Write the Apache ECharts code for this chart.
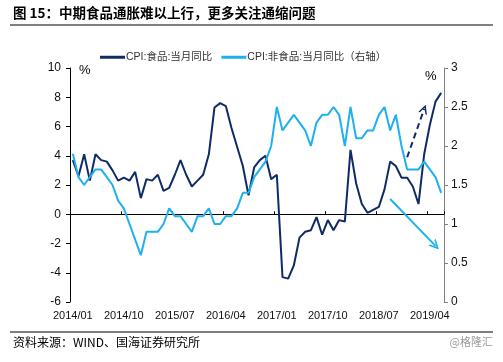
<!DOCTYPE html>
<html><head><meta charset="utf-8">
<script src="https://cdn.jsdelivr.net/npm/echarts@6/dist/echarts.min.js"></script>
<style>html,body{margin:0;padding:0;background:#fff}#c{width:503px;height:362px}</style>
</head><body><div id="c"></div>
<script>
// months 2014/01 .. 2019/06
const categories = [];
for (let y = 2014; y <= 2019; y++) {
  for (let m = 1; m <= 12; m++) {
    if (y === 2019 && m > 6) break;
    categories.push(y + '/' + (m < 10 ? '0' + m : m));
  }
}
const foodCPI = [
  3.7,2.6,4.1,2.3,4.1,3.7,3.6,3.0,2.3,2.5,2.3,2.9,
  1.1,2.4,2.3,2.7,1.6,1.8,2.7,3.7,2.7,1.9,2.3,2.7,
  4.1,7.3,7.6,7.4,5.9,4.6,3.3,1.3,3.2,3.7,4.0,2.4,
  2.7,-4.3,-4.4,-3.5,-1.6,-1.2,-1.1,-0.2,-1.4,-0.4,-1.1,-0.4,
  -0.5,4.4,2.1,0.7,0.1,0.3,0.5,1.7,3.6,3.3,2.5,2.5,
  1.9,0.7,4.1,6.1,7.7,8.3
];
const nonFoodCPI = [
  1.9,1.6,1.5,1.6,1.7,1.7,1.6,1.5,1.3,1.2,1.0,0.8,
  0.6,0.9,0.9,0.9,1.0,1.2,1.1,1.1,1.0,0.9,1.1,1.1,
  1.2,1.0,1.0,1.1,1.1,1.2,1.4,1.4,1.6,1.7,1.8,2.0,
  2.5,2.2,2.3,2.4,2.3,2.2,2.0,2.3,2.4,2.4,2.5,2.4,
  2.0,2.5,2.1,2.1,2.2,2.2,2.4,2.5,2.2,2.4,2.0,1.7,
  1.7,1.7,1.8,1.7,1.6,1.4
];
// annotation arrows (category index, value)
const foodArrow = [[59, 3.9], [62, 7.2]];
const nonFoodArrow = [[56, 1.32], [64, 0.72]];

const NAVY = '#0f2b66', SKY = '#1eb1ee';
const chevron = 'path://M0,10 L5,0 L10,10 L8.2,10 L5,3.6 L1.8,10 Z';
const FONT = '"Liberation Sans", Arial, "Noto Sans CJK SC", sans-serif';

const chart = echarts.init(document.getElementById('c'), null, {renderer: 'canvas'});
chart.setOption({
  animation: false,
  backgroundColor: '#fff',
  textStyle: {fontFamily: FONT},
  grid: {left: 70, right: 59, top: 68, bottom: 60},
  legend: {
    left: 95, top: 47, itemWidth: 25, itemHeight: 3, itemGap: 9, icon: 'rect',
    textStyle: {fontSize: 10.5, color: '#333', fontFamily: FONT, padding: [0, 0, 0, -4]},
    data: ['CPI:食品:当月同比', 'CPI:非食品:当月同比（右轴）']
  },
  xAxis: [
    {
      type: 'category', data: categories, boundaryGap: true, position: 'bottom',
      axisLine: {show: false, onZero: false}, axisTick: {show: false},
      axisLabel: {interval: 8, margin: 8, fontSize: 11, color: '#111'}
    },
    {
      type: 'category', data: categories, boundaryGap: true, position: 'top',
      axisLine: {show: true, onZero: true, onZeroAxisIndex: 0, lineStyle: {color: '#000', width: 1}},
      axisTick: {show: true, interval: 8, inside: false, length: 3, alignWithLabel: false, lineStyle: {color: '#000'}},
      axisLabel: {show: false}, splitLine: {show: false}
    }
  ],
  yAxis: [
    {
      type: 'value', min: -6, max: 10, interval: 2, position: 'left',
      axisLine: {show: true, lineStyle: {color: '#000'}},
      axisTick: {show: true, length: 4, lineStyle: {color: '#000'}},
      axisLabel: {margin: 9, fontSize: 12, color: '#111'},
      splitLine: {show: false}
    },
    {
      type: 'value', min: 0, max: 3, interval: 0.5, position: 'right',
      axisLine: {show: true, lineStyle: {color: '#808080'}},
      axisTick: {show: true, length: 4, lineStyle: {color: '#808080'}},
      axisLabel: {margin: 7, fontSize: 12, color: '#111'},
      splitLine: {show: false}
    }
  ],
  series: [
    {
      name: 'CPI:食品:当月同比', type: 'line', xAxisIndex: 0, yAxisIndex: 0,
      data: foodCPI, showSymbol: false, lineStyle: {color: NAVY, width: 2}, itemStyle: {color: NAVY},
      markLine: {
        silent: true, symbol: ['none', chevron], symbolSize: [9, 9],
        label: {show: false}, lineStyle: {color: NAVY, width: 2, type: [6, 4]},
        emphasis: {disabled: true},
        data: [[{coord: [categories[foodArrow[0][0]], foodArrow[0][1]]}, {coord: [categories[foodArrow[1][0]], foodArrow[1][1]]}]]
      }
    },
    {
      name: 'CPI:非食品:当月同比（右轴）', type: 'line', xAxisIndex: 0, yAxisIndex: 1,
      data: nonFoodCPI, showSymbol: false, lineStyle: {color: SKY, width: 2}, itemStyle: {color: SKY},
      markLine: {
        silent: true, symbol: ['none', chevron], symbolSize: [10, 10],
        label: {show: false}, lineStyle: {color: SKY, width: 2, type: 'solid'},
        emphasis: {disabled: true},
        data: [[{coord: [categories[nonFoodArrow[0][0]], nonFoodArrow[0][1]]}, {coord: [categories[nonFoodArrow[1][0]], nonFoodArrow[1][1]]}]]
      }
    }
  ],
  graphic: [
    {type: 'text', left: 13, top: 6, style: {text: '图 15：中期食品通胀难以上行，更多关注通缩问题', font: 'bold 13.5px "Noto Sans CJK SC", sans-serif', fill: '#000'}},
    {type: 'line', shape: {x1: 10, y1: 25, x2: 493, y2: 25}, style: {stroke: '#000', lineWidth: 1.2}},
    {type: 'text', left: 79, top: 64, style: {text: '%', font: '13px ' + FONT, fill: '#000'}},
    {type: 'text', left: 425, top: 70, style: {text: '%', font: '13px ' + FONT, fill: '#000'}},
    {type: 'line', shape: {x1: 10, y1: 332, x2: 493, y2: 332}, style: {stroke: '#000', lineWidth: 1.2}},
    {type: 'text', left: 13, top: 336, style: {text: '资料来源：WIND、国海证券研究所', font: '12px "Noto Sans CJK SC", sans-serif', fill: '#000'}},
    {type: 'text', right: 10, top: 336, style: {text: '@格隆汇', font: '11px "Noto Sans CJK SC", sans-serif', fill: '#9a9a9a'}}
  ]
});
</script></body></html>
